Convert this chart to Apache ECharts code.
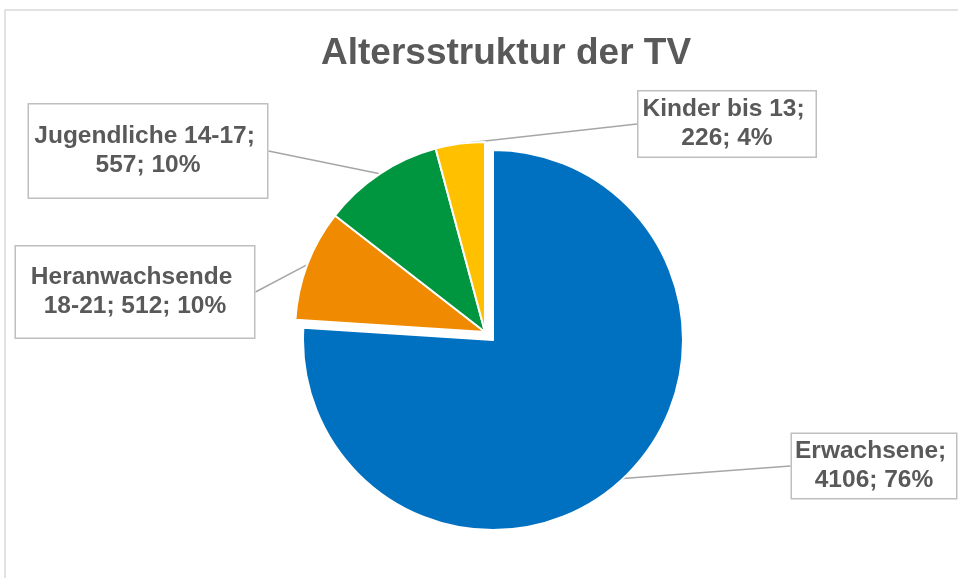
<!DOCTYPE html>
<html>
<head>
<meta charset="utf-8">
<script src="https://cdn.jsdelivr.net/npm/echarts@6/dist/echarts.min.js"></script>
<style>
  html, body { margin: 0; padding: 0; background: #fff; }
  #chart { width: 958px; height: 578px; }
</style>
</head>
<body>
<div id="chart"></div>
<script>
const categories = ['Erwachsene', 'Heranwachsende 18-21', 'Jugendliche 14-17', 'Kinder bis 13']
const values = [4106, 512, 557, 226]
const colors = ['#0070C0', '#F08A00', '#00963F', '#FFC000']

// callout boxes (centre x, centre y, width, height) like the Excel chart
const boxes = [
  { x: 874, y: 466, w: 166, h: 64 },
  { x: 135, y: 292, w: 240, h: 91 },
  { x: 148, y: 151, w: 240, h: 93 },
  { x: 727, y: 124, w: 179, h: 65 }
]

const lineH = 29
const chart = echarts.init(document.getElementById('chart'))

// the exploded slice (Erwachsene) is drawn by its own pie with a shifted centre,
// the other slices by a second pie; both use the same values so angles match
const hidden = {
  itemStyle: { color: 'rgba(0,0,0,0)', borderWidth: 0 },
  label: { show: false },
  labelLine: { show: false }
}

function makeData(exploded) {
  return categories.map((name, i) => {
    const visible = exploded ? i === 0 : i !== 0
    if (!visible) return Object.assign({ name: name, value: values[i] }, hidden)
    const b = boxes[i]
    const padV = (b.h - 2 * lineH) / 2
    return {
      name: name,
      value: values[i],
      itemStyle: { color: colors[i] },
      label: {
        width: b.w - 8,
        padding: [padV, 3, padV, 3]
      }
    }
  })
}

const pieBase = {
  type: 'pie',
  radius: 190,
  startAngle: 90,
  clockwise: true,
  percentPrecision: 0,
  avoidLabelOverlap: false,
  silent: true,
  itemStyle: { borderColor: '#fff', borderWidth: 2 },
  emphasis: { disabled: true },
  label: {
    show: true,
    formatter: '{b}; {c}; {d}%',
    overflow: 'break',
    align: 'center',
    color: '#595959',
    fontFamily: 'Liberation Sans',
    fontWeight: 'bold',
    fontSize: 24.5,
    lineHeight: lineH,
    backgroundColor: '#fff',
    borderColor: '#bfbfbf',
    borderWidth: 1.5
  },
  labelLine: {
    show: true,
    length: 1,
    length2: 0,
    lineStyle: { color: '#a6a6a6', width: 1.5 }
  },
  labelLayout: function (params) {
    const b = boxes[params.dataIndex]
    return { x: b.x, y: b.y, align: 'center', verticalAlign: 'middle' }
  }
}

const option = {
  backgroundColor: '#fff',
  animation: false,
  title: {
    text: 'Altersstruktur der TV',
    left: 316,
    top: 30,
    textStyle: {
      color: '#595959',
      fontFamily: 'Liberation Sans',
      fontWeight: 'bold',
      fontSize: 37
    }
  },
  graphic: [
    {
      type: 'rect',
      shape: { x: 5, y: 10, width: 980, height: 620 },
      style: { fill: 'none', stroke: '#d9d9d9', lineWidth: 1.5 },
      silent: true
    }
  ],
  series: [
    Object.assign({}, pieBase, { center: [493, 340], data: makeData(true) }),
    Object.assign({}, pieBase, { center: [485, 332], data: makeData(false) })
  ]
}

chart.setOption(option)
</script>
</body>
</html>
